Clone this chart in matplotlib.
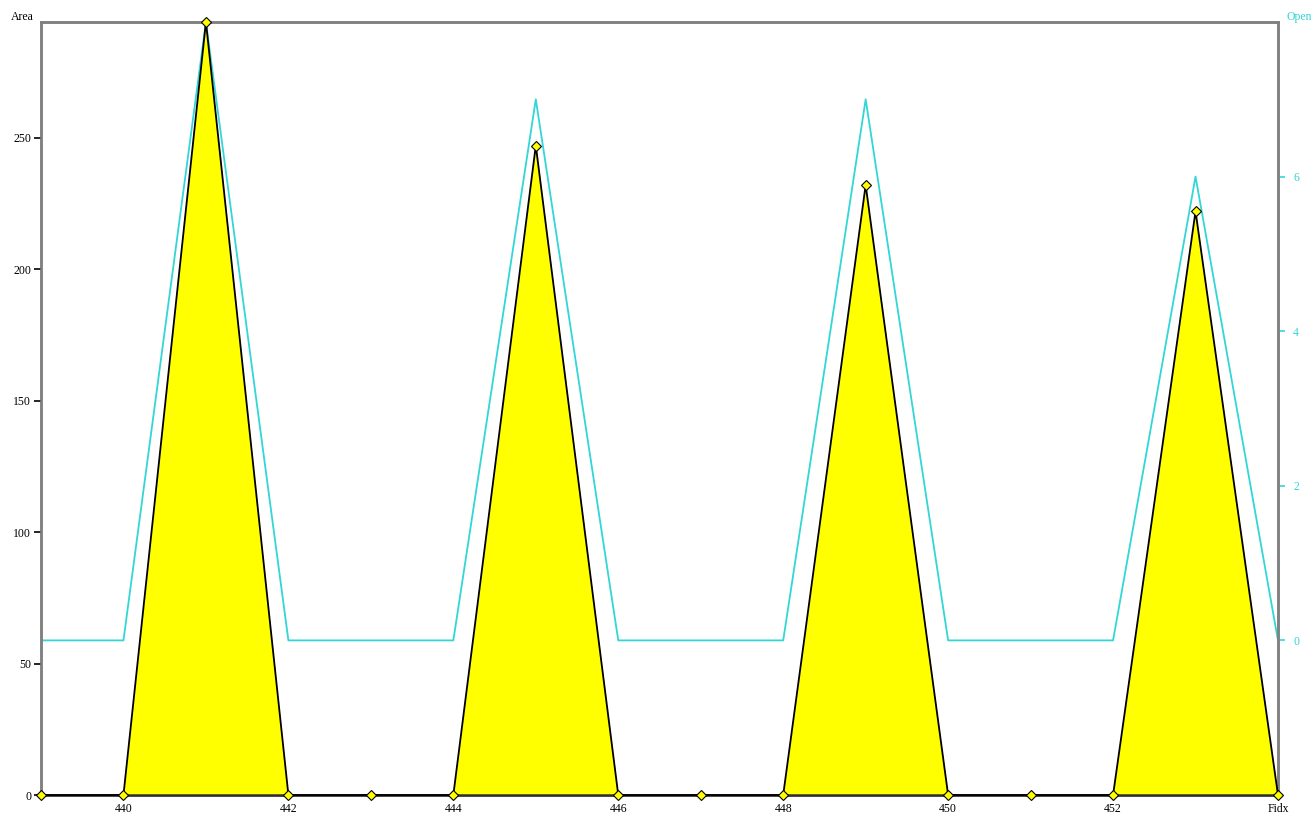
import matplotlib
matplotlib.use("Agg")
import matplotlib.pyplot as plt

fidx = [439, 440, 441, 442, 443, 444, 445, 446, 447, 448, 449, 450, 451, 452, 453, 454]
area = [0, 0, 294, 0, 0, 0, 247, 0, 0, 0, 232, 0, 0, 0, 222, 0]
open_ = [0, 0, 8, 0, 0, 0, 7, 0, 0, 0, 7, 0, 0, 0, 6, 0]
x_ticks = [440, 442, 444, 446, 448, 450, 452, 454]
x_labels = ["440", "442", "444", "446", "448", "450", "452", "Fidx"]
left_ticks = [0, 50, 100, 150, 200, 250]
right_ticks = [0, 2, 4, 6]

plt.rcParams['font.family'] = ['Liberation Serif', 'DejaVu Serif']
CYAN = '#33d6d6'
GREY = '#808080'

fig = plt.figure(figsize=(13.14, 8.14), dpi=100)
ax = fig.add_axes([41/1314, 1-795/814, (1278-41)/1314, (795-22)/814])
ax2 = ax.twinx()
ax.set_zorder(ax2.get_zorder() + 1)
ax.patch.set_visible(False)

ax2.plot(fidx, open_, color=CYAN, lw=1.3)
ax2.set_ylim(-2, 8)
ax2.set_yticks(right_ticks)
ax2.set_yticklabels([str(t) for t in right_ticks])
ax2.tick_params(axis='y', colors=CYAN, length=5, width=1.2, labelsize=8.5, pad=6, direction='out')

ax.fill_between(fidx, area, 0, color='#ffff00', lw=0)
ax.plot(fidx, area, color='black', lw=1.3, marker='D', ms=5.5,
        markerfacecolor='#ffff00', markeredgecolor='black', markeredgewidth=0.8,
        clip_on=False, zorder=5)
ax.set_xlim(439, 454)
ax.set_ylim(0, 294)
ax.set_yticks(left_ticks)
ax.set_yticklabels([str(t) for t in left_ticks])
ax.set_xticks(x_ticks)
ax.set_xticklabels(x_labels)
ax.tick_params(axis='y', colors='black', length=5, width=1.2, labelsize=8.5, pad=2, direction='out')
ax.tick_params(axis='x', length=0, labelsize=8.5, pad=6)

for a in (ax, ax2):
    for s in a.spines.values():
        s.set_color(GREY)
        s.set_linewidth(1.8)
ax.spines['bottom'].set_color('#303030')

fig.text(22/1314, 1-17/814, "Area", fontsize=8.5, ha='center', va='center', color='black')
fig.text(1299/1314, 1-17/814, "Open", fontsize=8.5, ha='center', va='center', color=CYAN)

fig.savefig("out.png", dpi=100)
